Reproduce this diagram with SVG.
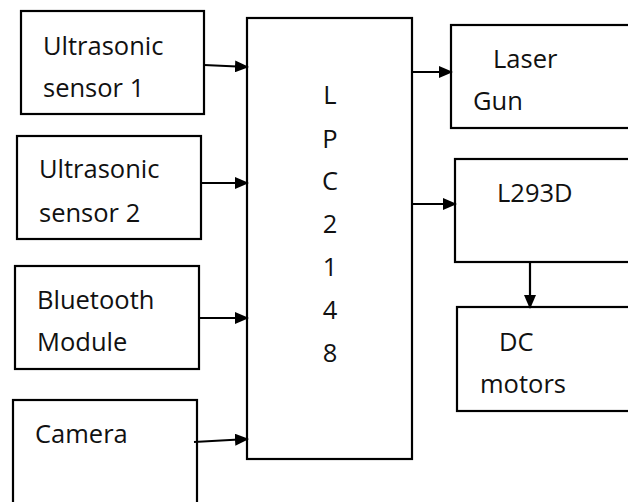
<svg xmlns="http://www.w3.org/2000/svg" width="628" height="502" viewBox="0 0 628 502">
<defs>
<marker id="ah" markerWidth="14" markerHeight="12" refX="13" refY="6" orient="auto" markerUnits="userSpaceOnUse">
<path d="M0,0 L14,6 L0,12 z" fill="#000"/>
</marker>
<style>
.box{fill:#fff;stroke:#000;stroke-width:2.2}
.t{font-family:"Open Sans","Noto Sans","DejaVu Sans",sans-serif;font-size:25.5px;fill:#111}
.c{stroke:#000;stroke-width:2.2;fill:none;marker-end:url(#ah)}
</style>
</defs>
<rect width="628" height="502" fill="#fff"/>
<g id="us1"><rect class="box" x="21" y="11" width="183" height="103"/><text class="t" x="43" y="55">Ultrasonic</text><text class="t" x="43" y="97">sensor 1</text></g>
<g id="us2"><rect class="box" x="17" y="136" width="184" height="103"/><text class="t" x="39" y="178">Ultrasonic</text><text class="t" x="39" y="222">sensor 2</text></g>
<g id="bt"><rect class="box" x="15" y="266" width="184" height="103"/><text class="t" x="37" y="309">Bluetooth</text><text class="t" x="37" y="351">Module</text></g>
<g id="cam"><rect class="box" x="13" y="400" width="184" height="110"/><text class="t" x="35" y="443">Camera</text></g>
<g id="lpc"><rect class="box" x="247" y="18" width="165" height="441"/>
<g class="t" text-anchor="middle"><text x="330" y="104">L</text><text x="330" y="148">P</text><text x="330" y="190">C</text><text x="330" y="233">2</text><text x="330" y="276">1</text><text x="330" y="319">4</text><text x="330" y="362">8</text></g></g>
<g id="laser"><rect class="box" x="451" y="25" width="190" height="103"/><text class="t" x="493" y="68">Laser</text><text class="t" x="473" y="110">Gun</text></g>
<g id="l293d"><rect class="box" x="455" y="159" width="190" height="103"/><text class="t" x="497" y="202">L293D</text></g>
<g id="dc"><rect class="box" x="457" y="307" width="190" height="104"/><text class="t" x="499" y="351">DC</text><text class="t" x="480" y="393">motors</text></g>
<g id="connectors">
<line class="c" x1="204" y1="65" x2="248" y2="67"/>
<line class="c" x1="201" y1="183" x2="248" y2="183"/>
<line class="c" x1="199" y1="318" x2="248" y2="318"/>
<line class="c" x1="194" y1="442" x2="248" y2="439"/>
<line class="c" x1="412" y1="72" x2="452" y2="72"/>
<line class="c" x1="412" y1="204" x2="456" y2="204"/>
<line class="c" x1="530" y1="262" x2="530" y2="308"/>
</g>
</svg>
